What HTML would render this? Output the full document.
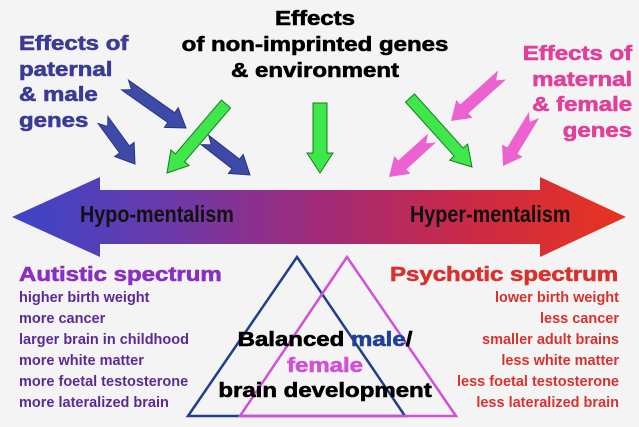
<!DOCTYPE html>
<html><head><meta charset="utf-8">
<style>
html,body{margin:0;padding:0;background:#f4f4f4;}
body{width:639px;height:427px;overflow:hidden;position:relative;font-family:"Liberation Sans",sans-serif;}
svg{position:absolute;left:0;top:0;}
.t{position:absolute;font-weight:bold;white-space:nowrap;}
.h{transform:scaleX(1.2);-webkit-text-stroke:0.6px currentColor;}
.n{font-family:"Liberation Sans Narrow","Liberation Sans",sans-serif;font-weight:bold;}
</style></head><body>
<svg width="639" height="427" viewBox="0 0 639 427">
<defs>
<linearGradient id="g" x1="12" x2="626" y1="0" y2="0" gradientUnits="userSpaceOnUse">
<stop offset="0" stop-color="#3a45c8"/>
<stop offset="0.25" stop-color="#6a3aaa"/>
<stop offset="0.5" stop-color="#a02a78"/>
<stop offset="0.75" stop-color="#cc2a45"/>
<stop offset="1" stop-color="#e8341e"/>
</linearGradient>
</defs>
<polygon points="12,217 100,177 100,190 540,190 540,177 626,217 540,257 540,244 100,244 100,257" fill="url(#g)"/>
<g id="arrows"></g>
<polygon points="297,257 188,416 405,416" fill="none" stroke="#1f3f8a" stroke-width="2.5"/>
<polygon points="347,257 240,416 456,416" fill="none" stroke="#d050d8" stroke-width="2.5"/>
</svg>
<div class="t n" style="left:80px;top:201px;font-size:23px;color:#111;transform:scaleX(0.86);transform-origin:0 0;">Hypo-mentalism</div>
<div class="t n" style="left:410px;top:201px;font-size:23px;color:#111;transform:scaleX(0.86);transform-origin:0 0;">Hyper-mentalism</div>

<div class="t h" style="left:200px;top:6px;width:230px;text-align:center;font-size:20px;line-height:26px;color:#000;transform-origin:50% 0;">Effects<br>of non-imprinted genes<br>&amp; environment</div>
<div class="t h" style="left:19px;top:32px;font-size:20px;line-height:25.5px;color:#3b3b96;transform-origin:0 0;">Effects of<br>paternal<br>&amp; male<br>genes</div>
<div class="t h" style="right:7px;top:42px;text-align:right;font-size:20px;line-height:25.5px;color:#e0409a;transform-origin:100% 0;">Effects of<br>maternal<br>&amp; female<br>genes</div>

<div class="t h" style="left:19px;top:264px;font-size:20px;color:#8a2fbf;transform-origin:0 0;">Autistic spectrum</div>
<div class="t n" style="left:19px;top:288px;font-size:14.5px;line-height:21px;color:#5a2a96;">higher birth weight<br>more cancer<br>larger brain in childhood<br>more white matter<br>more foetal testosterone<br>more lateralized brain</div>
<div class="t h" style="right:21px;top:264px;font-size:20px;color:#d8322e;transform-origin:100% 0;">Psychotic spectrum</div>
<div class="t n" style="right:20px;top:288px;text-align:right;font-size:14.5px;line-height:21px;color:#d8322e;">lower birth weight<br>less cancer<br>smaller adult brains<br>less white matter<br>less foetal testosterone<br>less lateralized brain</div>

<div class="t h" style="left:215px;top:328px;width:220px;text-align:center;font-size:20px;line-height:25.5px;color:#000;transform-origin:50% 0;">Balanced <span style="color:#1f3f9a">male</span>/<br><span style="color:#d050d8">female</span><br>brain development</div>
<script>
function arr(x1,y1,x2,y2,fill,stroke,w,hw,hl,notch){
 var dx=x2-x1,dy=y2-y1,L=Math.hypot(dx,dy),ux=dx/L,uy=dy/L,px=-uy,py=ux;
 var bx=x2-ux*hl,by=y2-uy*hl;
 var sx=x1+ux*notch,sy=y1+uy*notch;
 var p=[[x1+px*w,y1+py*w],[bx+px*w,by+py*w],[bx+px*hw,by+py*hw],[x2,y2],[bx-px*hw,by-py*hw],[bx-px*w,by-py*w],[x1-px*w,y1-py*w]];
 if(notch)p.push([sx,sy]);
 return '<polygon points="'+p.map(function(q){return q[0].toFixed(1)+','+q[1].toFixed(1)}).join(' ')+'" fill="'+fill+'" stroke="'+stroke+'" stroke-width="1"/>';
}
var h='';
var B='#3d4aa8',G='#3ee84a',P='#ec62d0';
h+=arr(103,120,135,164,B,'#2a3380',6,12,18,8);
h+=arr(125,85,186,128,B,'#2a3380',6,12,18,8);
h+=arr(205,140,250,175,B,'#2a3380',6,12,18,8);
h+=arr(226,104,167,173,G,'#1a7a22',6,12,20,0);
h+=arr(320,103,320,173,G,'#1a7a22',7,13,20,0);
h+=arr(410,98,472,167,G,'#1a7a22',6,12,20,0);
h+=arr(502,75,451,121,P,'none',6,12,18,8);
h+=arr(432,138,389,177,P,'none',6,12,18,8);
h+=arr(534,115,503,166,P,'none',6,12,18,8);
document.getElementById('arrows').innerHTML=h;
</script>
</body></html>
